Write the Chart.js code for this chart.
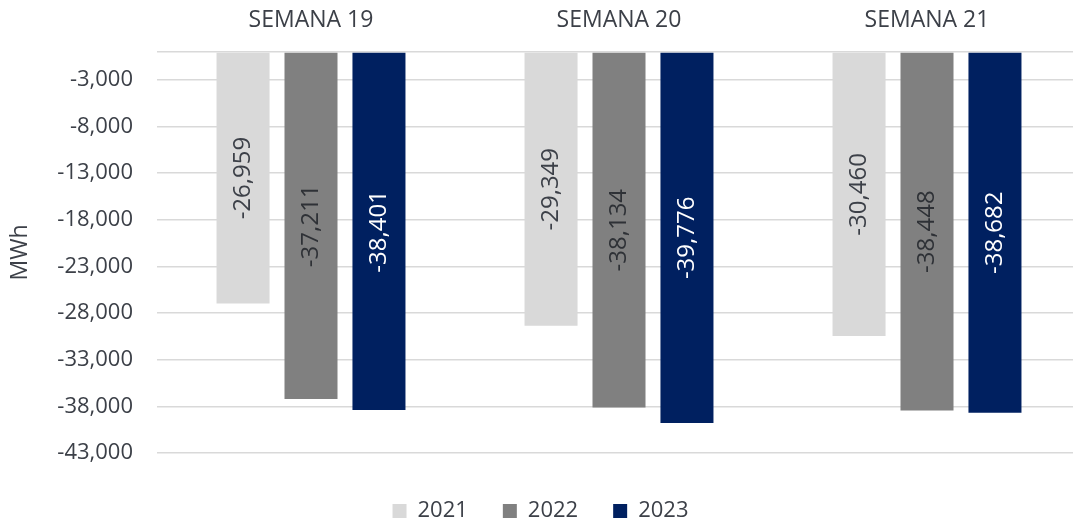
<!DOCTYPE html>
<html>
<head>
<meta charset="utf-8">
<script src="https://cdn.jsdelivr.net/npm/chart.js@4"></script>
<style>
  html, body { margin: 0; padding: 0; background: #fff; overflow: hidden; }
  /* plot runs a little past the right edge of the window, as in the reference */
  #wrap { width: 1081px; height: 523px; position: relative; }
</style>
</head>
<body>
<div id="wrap"><canvas id="chart"></canvas></div>
<script>
// data
const categories = ['SEMANA 19', 'SEMANA 20', 'SEMANA 21'];
const years = ['2021', '2022', '2023'];
const v2021 = [-26959, -29349, -30460];
const v2022 = [-37211, -38134, -38448];
const v2023 = [-38401, -39776, -38682];
const yTicks = [-43000, -38000, -33000, -28000, -23000, -18000, -13000, -8000, -3000, 0];

const TXT = '#3c4048';
const FONT = "'Open Sans', sans-serif";
const fmt = v => v.toLocaleString('en-US');

// value labels, rotated, centred in each bar
const barLabels = {
    id: 'barLabels',
    afterDatasetsDraw(chart) {
        const ctx = chart.ctx;
        chart.data.datasets.forEach((ds, i) => {
            const meta = chart.getDatasetMeta(i);
            meta.data.forEach((bar, j) => {
                const y = (bar.y + bar.base) / 2;
                ctx.save();
                ctx.translate(bar.x, y);
                ctx.rotate(-Math.PI / 2);
                ctx.font = '24px ' + FONT;
                ctx.fillStyle = ds.labelColor;
                ctx.textAlign = 'center';
                ctx.textBaseline = 'middle';
                ctx.fillText(fmt(ds.data[j]), 0, 0);
                ctx.restore();
            });
        });
    }
};

new Chart(document.getElementById('chart'), {
    type: 'bar',
    data: {
        labels: categories,
        datasets: [
            { label: years[0], data: v2021, backgroundColor: '#d9d9d9', labelColor: '#3c4048' },
            { label: years[1], data: v2022, backgroundColor: '#808080', labelColor: '#2e3136' },
            { label: years[2], data: v2023, backgroundColor: '#002060', labelColor: '#ffffff' }
        ]
    },
    options: {
        responsive: true,
        maintainAspectRatio: false,
        animation: false,
        datasets: { bar: { categoryPercentage: 0.662, barPercentage: 0.78 } },
        layout: { padding: { left: 0, right: 0, top: 0, bottom: -9 } },
        plugins: {
            legend: {
                position: 'bottom',
                title: { display: true, text: ' ', font: { size: 10 }, padding: 0 },
                labels: { boxWidth: 14, boxHeight: 14, padding: 35, color: TXT, font: { family: FONT, size: 22 } }
            },
            tooltip: { enabled: false }
        },
        scales: {
            x: {
                position: 'top',
                grid: { display: false, drawTicks: false },
                border: { display: false },
                ticks: { color: TXT, padding: 18, font: { family: FONT, size: 23 } },
                afterFit(s) { s.height = 52; }
            },
            y: {
                min: -43000,
                max: 0,
                afterBuildTicks(s) { s.ticks = yTicks.map(v => ({ value: v })); },
                grid: { color: '#d9d9d9', lineWidth: 1.5, drawTicks: false },
                border: { display: false },
                ticks: {
                    color: TXT, padding: 24, font: { family: FONT, size: 22 },
                    callback: v => v === 0 ? '' : fmt(v)
                },
                title: { display: true, text: 'MWh', color: TXT, font: { family: FONT, size: 23 }, padding: { top: 7, bottom: 0 } },
                afterFit(s) { s.width = 157; }
            }
        }
    },
    plugins: [barLabels]
});
</script>
</body>
</html>
